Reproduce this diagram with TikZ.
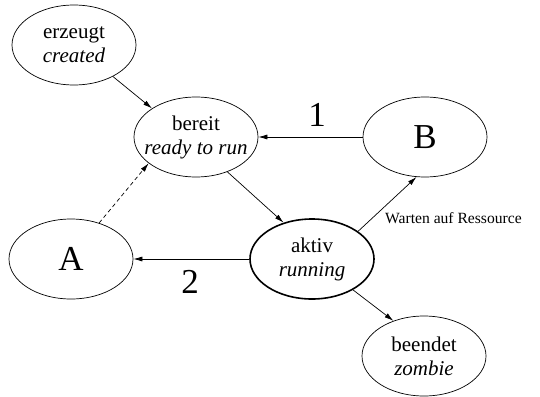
\documentclass[tikz,border=0pt]{standalone}
\usepackage{fontspec}
\setmainfont{Liberation Serif}
\usetikzlibrary{arrows.meta,shapes.geometric}
\tikzset{
  state/.style={draw, ellipse, line width=0.7pt, inner sep=-20pt, minimum width=124pt, minimum height=80pt, align=center, font=\fontsize{21}{24}\selectfont},
  big/.style={font=\fontsize{35}{40}\selectfont},
  arr/.style={-{Latex[length=9pt,width=5pt]}, line width=0.7pt},
}
\begin{document}
\begin{tikzpicture}[x=1pt,y=-1pt]
\useasboundingbox (0,0) rectangle (540,396);
\node[state] (erz) at (74,45) {erzeugt\\\textit{created}};
\node[state] (ber) at (196,137) {bereit\\\textit{ready to run}};
\node[state, big] (B) at (425,137) {B};
\node[state, big] (A) at (71,259) {A};
\node[state, line width=1.6pt] (akt) at (312,259) {aktiv\\\textit{running}};
\node[state] (end) at (424,356) {beendet\\\textit{zombie}};
\node[big] (l1) at (317,115) {1};
\node[big] (l2) at (190,282) {2};
\node[anchor=west, inner sep=0pt, font=\fontsize{15.6}{18}\selectfont] (wr) at (385,218) {Warten auf Ressource};
\draw[arr] (erz.-39) -- (ber.147);
\draw[arr] (B.west) -- (ber.east);
\draw[arr] (ber.-48) -- (akt.128);
\draw[arr, dash pattern=on 4pt off 3pt] (A.52) -- (ber.209);
\draw[arr] (akt.31) -- (B.258);
\draw[arr] (akt.west) -- (A.east);
\draw[arr] (akt.-37) -- (end.131);
\end{tikzpicture}
\end{document}
